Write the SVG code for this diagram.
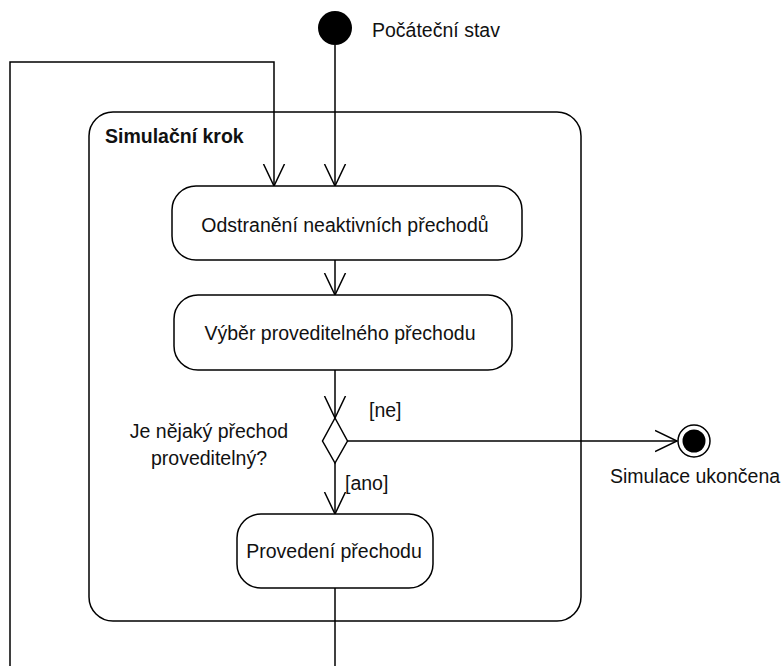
<svg xmlns="http://www.w3.org/2000/svg" width="784" height="666" viewBox="0 0 784 666">
  <style>
    .line { fill: none; stroke: #000; stroke-width: 1.5; }
    .shape { fill: #fff; stroke: #000; stroke-width: 1.5; }
    .txt { font-family: "Liberation Sans", Arial, sans-serif; font-size: 19.5px; fill: #111; }
    .mid { text-anchor: middle; }
    .bold { font-weight: bold; }
  </style>
  <defs>
    <marker id="open" viewBox="0 0 24 24" refX="22" refY="12" markerWidth="24" markerHeight="24" markerUnits="userSpaceOnUse" orient="auto">
      <path d="M0,1.5 L22,12 L0,22.5" fill="none" stroke="#000" stroke-width="1.5"/>
    </marker>
  </defs>
  <rect width="784" height="666" fill="#fff"/>

  <!-- container: simulation step -->
  <g id="simulacni-krok">
    <rect class="shape" x="89" y="112" width="492" height="509" rx="24"/>
    <text class="txt bold" x="105" y="143">Simulační krok</text>
  </g>

  <!-- connectors -->
  <g id="connectors">
    <path class="line" d="M335,45 L335,186" marker-end="url(#open)"/>
    <path class="line" d="M10,666 L10,62 L274,62 L274,186" marker-end="url(#open)"/>
    <path class="line" d="M335,260 L335,295" marker-end="url(#open)"/>
    <path class="line" d="M335,370 L335,418" marker-end="url(#open)"/>
    <path class="line" d="M335,463 L335,514" marker-end="url(#open)"/>
    <path class="line" d="M347,441 L677,441" marker-end="url(#open)"/>
    <path class="line" d="M335,588 L335,666"/>
    <text class="txt" x="369" y="417">[ne]</text>
    <text class="txt" x="345" y="490">[ano]</text>
  </g>

  <g id="pocatecni-stav">
    <circle cx="335" cy="28" r="17" fill="#000"/>
    <text class="txt" x="372" y="37">Počáteční stav</text>
  </g>

  <g id="odstraneni">
    <rect class="shape" x="172" y="186" width="350" height="74" rx="24"/>
    <text class="txt mid" x="345" y="232">Odstranění neaktivních přechodů</text>
  </g>

  <g id="vyber">
    <rect class="shape" x="174" y="295" width="338" height="75" rx="24"/>
    <text class="txt mid" x="340" y="340">Výběr proveditelného přechodu</text>
  </g>

  <g id="rozhodnuti">
    <path class="shape" d="M335,418 L347.5,441 L335,463 L322.5,441 Z"/>
    <text class="txt mid" x="209" y="438">Je nějaký přechod</text>
    <text class="txt mid" x="209" y="465">proveditelný?</text>
  </g>

  <g id="provedeni">
    <rect class="shape" x="237" y="514" width="196" height="74" rx="24"/>
    <text class="txt mid" x="334" y="558">Provedení přechodu</text>
  </g>

  <g id="koncovy-stav">
    <circle class="shape" cx="694" cy="441" r="16"/>
    <circle cx="694" cy="441" r="11.5" fill="#000"/>
    <text class="txt mid" x="695" y="483">Simulace ukončena</text>
  </g>
</svg>
